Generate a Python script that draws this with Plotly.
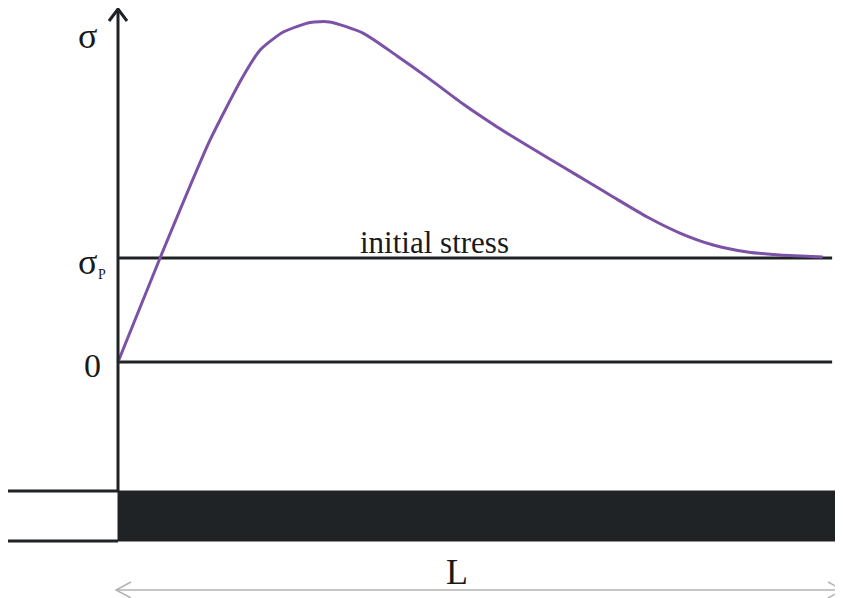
import plotly.graph_objects as go

# Data: position along length (fraction of L) and stress (in units of sigma_P)
pos = [0.0, 0.058, 0.127, 0.172, 0.196, 0.228, 0.265, 0.292, 0.338, 0.385, 0.430,
       0.476, 0.523, 0.568, 0.614, 0.651, 0.683, 0.730, 0.775, 0.821, 0.868, 0.913, 0.972]
stress = [0.0, 1.0, 2.135, 2.740, 3.0, 3.173, 3.265, 3.27, 3.163, 2.943, 2.720,
          2.480, 2.260, 2.067, 1.875, 1.721, 1.587, 1.394, 1.240, 1.125, 1.058, 1.029, 1.01]
levels = [0.0, 1.0]          # zero and initial stress
level_end = 0.985

# page offset (browser body margin) compensation
OFF = 8
W, H = 843 - OFF, 598 - OFF
px_x = lambda p: (p - 118) / 725.0
px_y = lambda p: (362 - p) / 104.0

fig = go.Figure()
fig.add_trace(go.Scatter(x=pos, y=stress, mode="lines",
                         line=dict(color="#7b52a6", width=3, shape="spline", smoothing=0.6),
                         hoverinfo="skip", showlegend=False))

BLK = "#202326"
shapes = []
for lv in levels:
    shapes.append(dict(type="line", x0=0, x1=level_end, y0=lv, y1=lv,
                       line=dict(color=BLK, width=3), layer="below"))
# vertical axis with arrow
top = px_y(9)
bar_top, bar_bot = px_y(491), px_y(541)
shapes.append(dict(type="line", x0=0, x1=0, y0=bar_top, y1=top, line=dict(color=BLK, width=3)))
shapes.append(dict(type="path",
                   path=f"M {-9/725} {top-12/104} L 0 {top} L {9/725} {top-12/104}",
                   line=dict(color=BLK, width=3)))
# bar
shapes.append(dict(type="rect", x0=0, x1=1.02, y0=bar_bot, y1=bar_top,
                   fillcolor=BLK, line=dict(color=BLK, width=1)))
for yy in (bar_top, bar_bot):
    shapes.append(dict(type="line", x0=px_x(8), x1=0, y0=yy, y1=yy, line=dict(color=BLK, width=3)))
# dimension arrow L
ya = px_y(590)
GR = "#b3b3b3"
shapes.append(dict(type="line", x0=px_x(116), x1=1.0, y0=ya, y1=ya, line=dict(color=GR, width=1.5)))
shapes.append(dict(type="path",
                   path=f"M {px_x(131)} {ya+8/104} L {px_x(116)} {ya} L {px_x(131)} {ya-8/104}",
                   line=dict(color=GR, width=1.5)))
shapes.append(dict(type="path",
                   path=f"M {px_x(828)} {ya+8/104} L {px_x(843)} {ya} L {px_x(828)} {ya-8/104}",
                   line=dict(color=GR, width=1.5)))

SERIF = "Liberation Serif, Times New Roman, DejaVu Serif, serif"
ann = [
    dict(x=px_x(87), y=px_y(36), text="σ", font=dict(size=36)),
    dict(x=px_x(87), y=px_y(262), text="σ", font=dict(size=36)),
    dict(x=px_x(102), y=px_y(274), text="P", font=dict(size=14)),
    dict(x=px_x(92), y=px_y(365), text="0", font=dict(size=34)),
    dict(x=px_x(434), y=px_y(242), text="initial stress", font=dict(size=31)),
    dict(x=px_x(457), y=px_y(572), text="L", font=dict(size=36)),
]
for a in ann:
    a.update(xref="x", yref="y", showarrow=False, xanchor="center", yanchor="middle")
    a["font"].update(family=SERIF, color="#1a1a1a")

fig.update_layout(
    width=W, height=H, margin=dict(l=0, r=0, t=0, b=0),
    paper_bgcolor="white", plot_bgcolor="white",
    font=dict(family=SERIF),
    xaxis=dict(range=[px_x(OFF), px_x(843)], visible=False, fixedrange=True),
    yaxis=dict(range=[px_y(598), px_y(OFF)], visible=False, fixedrange=True),
    shapes=shapes, annotations=ann, showlegend=False,
)
fig.write_html("out.html")
